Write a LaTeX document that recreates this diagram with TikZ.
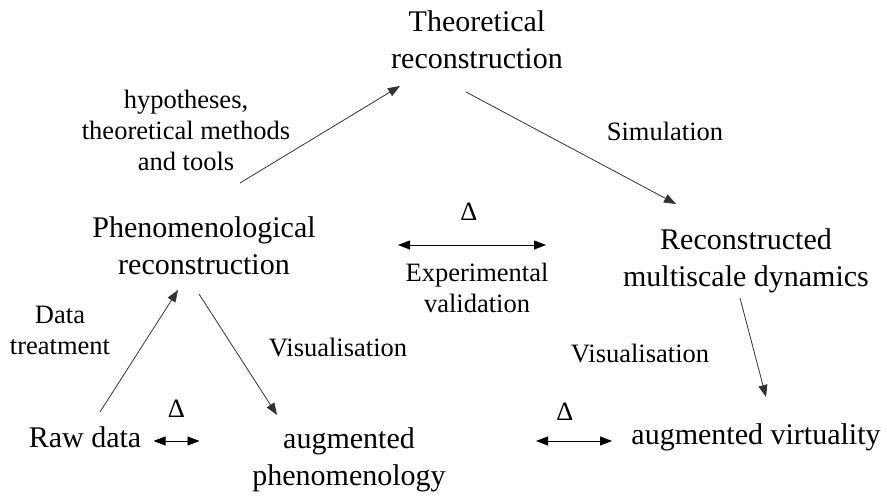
\documentclass[tikz,border=0pt]{standalone}
\usepackage{fontspec}
\setmainfont{Liberation Serif}
\usetikzlibrary{arrows.meta}

\begin{document}
\begin{tikzpicture}[x=1pt, y=1pt,
		big/.style={inner sep=0pt, align=center, font=\fontsize{30}{37}\selectfont},
		small/.style={inner sep=0pt, align=center, font=\fontsize{26.5}{31}\selectfont},
		arr/.style={black!80, line width=0.8pt, -{Triangle[length=12pt,width=9pt]}},
		dbl/.style={black, line width=0.8pt, {Triangle[length=12pt,width=9pt]}-{Triangle[length=12pt,width=9pt]}}]
		
		\useasboundingbox (0,0) rectangle (887,497);
		
		% Main blocks
		\node[big] (theo) at (477,457) {Theoretical\\reconstruction};
		\node[big] (phen) at (204,251) {Phenomenological\\reconstruction};
		\node[big] (recon) at (746,236) {Reconstructed\\multiscale dynamics};
		\node[big] (raw) at (85,60) {Raw data};
		\node[big] (augphen) at (349,37) {augmented\\phenomenology};
		\node[big] (augvirt) at (756,60) {augmented virtuality};
		
		% Labels
		\node[small] (hyp) at (186,367) {hypotheses,\\theoretical methods\\and tools};
		\node[small] (sim) at (665,366) {Simulation};
		\node[small] (expval) at (477,209) {Experimental\\validation};
		\node[small] (datatr) at (60,167) {Data\\treatment};
		\node[small] (visl) at (338,149) {Visualisation};
		\node[small] (visr) at (640,143) {Visualisation};
		
		% Deltas
		\node[small] (dmid) at (469,285) {Δ};
		\node[small] (dleft) at (176.5,88.5) {Δ};
		\node[small] (dright) at (565,85) {Δ};
		
		% Arrows
		\draw[arr] ([shift={(36,63)}]phen.center) -- ([shift={(-77,-46)}]theo.center);
		\draw[arr] ([shift={(-11,-52)}]theo.center) -- ([shift={(-70,57)}]recon.center);
		\draw[arr] ([shift={(15,25)}]raw.center) -- ([shift={(-26,-44)}]phen.center);
		\draw[arr] ([shift={(-5,-48)}]phen.center) -- ([shift={(-72,45)}]augphen.center);
		\draw[arr] ([shift={(-6,-37)}]recon.center) -- ([shift={(10,40)}]augvirt.center);
		
		% Comparisons
		\draw[dbl] ([shift={(-71,-33)}]dmid.center) -- ([shift={(77,-33)}]dmid.center);
		\draw[dbl] ([shift={(-23,-32.5)}]dleft.center) -- ([shift={(23,-32.5)}]dleft.center);
		\draw[dbl] ([shift={(-29,-29)}]dright.center) -- ([shift={(47,-29)}]dright.center);
		
	\end{tikzpicture}
\end{document}
